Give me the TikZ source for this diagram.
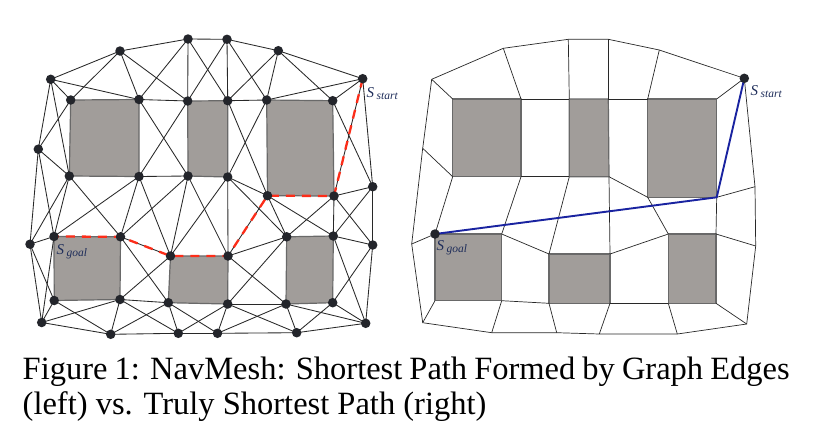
\documentclass[tikz,border=0pt]{standalone}
\usepackage{fontspec}
\setmainfont{Liberation Serif}
\definecolor{obfill}{RGB}{161,157,154}
\definecolor{obline}{RGB}{105,105,105}
\definecolor{dotcol}{RGB}{35,37,43}
\definecolor{edgecol}{RGB}{40,40,40}
\definecolor{redpath}{RGB}{252,45,25}
\definecolor{bluepath}{RGB}{25,35,160}
\definecolor{labcol}{RGB}{30,45,90}
\tikzset{
  edge/.style={draw=edgecol, line width=0.85pt},
  medge/.style={draw=edgecol, line width=0.7pt},
  obst/.style={fill=obfill, draw=obline, line width=1.2pt, line join=round},
  dot/.style={circle, fill=dotcol, inner sep=0pt, minimum size=9.5pt},
  rpath/.style={draw=redpath, line width=2.3pt, dash pattern=on 9pt off 7pt},
  bpath/.style={draw=bluepath, line width=1.9pt, line join=round},
  lab/.style={inner sep=0pt, text=labcol, anchor=base west},
  capt/.style={inner sep=0pt, anchor=base west, font=\fontsize{32.5}{35}\selectfont}
}
\newcommand{\slab}[1]{\fontsize{15}{15}\selectfont\textit{S}\,\raisebox{-2pt}{\fontsize{11.5}{11.5}\selectfont\textit{#1}}}
\begin{document}
\begin{tikzpicture}[x=1pt,y=-1pt]
\useasboundingbox (0,0) rectangle (819,429);
\fill[white] (0,0) rectangle (819,429);
% ---------------- left graph: vertices
\coordinate (A1) at (50.7,79.3);  \coordinate (A2) at (120,51);
\coordinate (A3) at (188,39);     \coordinate (A4) at (227,39.3);
\coordinate (A5) at (278.3,50.7); \coordinate (A6) at (362.7,78.7);
\coordinate (B1) at (70.7,100);   \coordinate (B2) at (139,99.5);
\coordinate (B3) at (187.7,101);  \coordinate (B4) at (227.7,100.7);
\coordinate (B5) at (266.7,100);  \coordinate (B6) at (332.7,100.7);
\coordinate (L1) at (38.3,149.2);
\coordinate (C1) at (69.3,176);   \coordinate (C2) at (139,176.5);
\coordinate (C3) at (188,176);    \coordinate (C4) at (227.7,177);
\coordinate (R1) at (372.7,186.7);
\coordinate (D1) at (267.5,195.7);\coordinate (D2) at (334,196);
\coordinate (E0) at (30,244.2);   \coordinate (E1) at (54,236.5);
\coordinate (E2) at (120.5,236.8);\coordinate (E3) at (170.5,256);
\coordinate (E4) at (228,256);    \coordinate (E5) at (286.7,236.8);
\coordinate (E6) at (333.3,236);  \coordinate (E7) at (372.7,245);
\coordinate (F1) at (54.2,300.5); \coordinate (F2) at (120,299.5);
\coordinate (F3) at (168.3,302.7);\coordinate (F4) at (227.7,304);
\coordinate (F5) at (286,304);    \coordinate (F6) at (332.7,302.7);
\coordinate (G1) at (41.7,322.5); \coordinate (G2) at (110.7,334.3);
\coordinate (G3) at (178.3,333.3);\coordinate (G4) at (217.5,333.3);
\coordinate (G5) at (296.7,332.7);\coordinate (G6) at (365.7,323.3);
% obstacles
\draw[obst] (B1) -- (B2) -- (C2) -- (C1) -- cycle;
\draw[obst] (B3) -- (B4) -- (C4) -- (C3) -- cycle;
\draw[obst] (B5) -- (B6) -- (D2) -- (D1) -- cycle;
\draw[obst] (E1) -- (E2) -- (F2) -- (F1) -- cycle;
\draw[obst] (E3) -- (E4) -- (F4) -- (F3) -- cycle;
\draw[obst] (E5) -- (E6) -- (F6) -- (F5) -- cycle;
% edges
\foreach \a/\b in {A1/A2,A2/A3,A3/A4,A4/A5,A5/A6,
  A1/B1,A1/B2,A1/L1,A1/C1,A2/B1,A2/B2,A2/B3,A3/B2,A3/B3,A3/B4,
  A4/B3,A4/B4,A4/B5,A5/B4,A5/B5,A5/B6,A6/B5,A6/B6,A6/R1,A6/D2,
  B2/B3,B4/B5,B1/L1,L1/C1,L1/E0,L1/E1,C1/E0,C1/E1,C1/E2,
  B2/C3,B3/C2,C2/C3,C2/E1,C2/E2,C2/E3,C3/E2,C3/E3,C3/E4,
  C4/E3,C4/E4,C4/D1,C4/E5,B4/D1,B5/C4,
  B6/R1,D2/R1,R1/E6,R1/E7,D2/E7,D1/E6,D2/E5,D1/E5,D2/E6,D1/E4,
  E4/E5,E4/F5,E5/F4,E6/E7,E6/G6,E7/F6,E7/G6,
  E0/E1,E0/F1,E0/G1,E1/G1,E2/E3,E2/F3,E3/F2,F2/F3,F4/F5,
  G1/F1,G1/F2,G1/G2,F1/G2,F2/G2,F2/G3,F3/G2,F3/G3,F3/G4,
  F4/G3,F4/G4,F4/G5,F5/G4,F5/G5,F5/G6,F6/G5,F6/G6,
  G2/G3,G3/G4,G4/G5,G5/G6}
  \draw[edge] (\a) -- (\b);
% red path
\draw[rpath] (A6) -- (D2) -- (D1) -- (E4) -- (E3) -- (E2) -- (E1);
% dots
\foreach \n in {A1,A2,A3,A4,A5,A6,B1,B2,B3,B4,B5,B6,L1,C1,C2,C3,C4,R1,D1,D2,
  E0,E1,E2,E3,E4,E5,E6,E7,F1,F2,F3,F4,F5,F6,G1,G2,G3,G4,G5,G6}
  \node[dot] at (\n) {};
\node[lab] (lstart) at (366.5,97.5) {\slab{start}};
\node[lab] (lgoal) at (56.5,254.5) {\slab{goal}};
% ---------------- right mesh: vertices
\coordinate (rA1) at (431.7,79.3);  \coordinate (rA2) at (503.3,48.3);
\coordinate (rA3) at (568.3,39.3);  \coordinate (rA4) at (608.3,39.3);
\coordinate (rA5) at (659.3,50);    \coordinate (rA6) at (744.3,78.3);
\coordinate (rB1) at (452.7,99);    \coordinate (rB2) at (521,99);
\coordinate (rB3) at (569.3,99);    \coordinate (rB4) at (608.3,99);
\coordinate (rB5) at (647.7,99);    \coordinate (rB6) at (716.7,99);
\coordinate (rL1) at (422.7,148.3);
\coordinate (rC1) at (452.7,176.7); \coordinate (rC2) at (521,176.7);
\coordinate (rC3) at (569.3,176.7); \coordinate (rC4) at (609,176.7);
\coordinate (rR1) at (755,186.7);
\coordinate (rD1) at (647.7,197.3); \coordinate (rD2) at (716.7,197.3);
\coordinate (rE0) at (411.7,244);   \coordinate (rE1) at (435,234);
\coordinate (rE2) at (501.7,234);   \coordinate (rE3) at (549,254);
\coordinate (rE4) at (610,254);     \coordinate (rE5) at (668.3,234);
\coordinate (rE6) at (716,234);     \coordinate (rE7) at (755.7,246);
\coordinate (rF1) at (435,300.7);   \coordinate (rF2) at (501.7,300.7);
\coordinate (rF3) at (549,303.3);   \coordinate (rF4) at (610,303.3);
\coordinate (rF5) at (668.3,303.3); \coordinate (rF6) at (716,303.3);
\coordinate (rG1) at (422.7,322.7); \coordinate (rG2) at (491.7,332.7);
\coordinate (rG3) at (556.7,332.7); \coordinate (rG4) at (599.3,334);
\coordinate (rG5) at (677.3,334);   \coordinate (rG6) at (746.7,324);
% obstacles
\draw[obst] (rB1) -- (rB2) -- (rC2) -- (rC1) -- cycle;
\draw[obst] (rB3) -- (rB4) -- (rC4) -- (rC3) -- cycle;
\draw[obst] (rB5) -- (rB6) -- (rD2) -- (rD1) -- cycle;
\draw[obst] (rE1) -- (rE2) -- (rF2) -- (rF1) -- cycle;
\draw[obst] (rE3) -- (rE4) -- (rF4) -- (rF3) -- cycle;
\draw[obst] (rE5) -- (rE6) -- (rF6) -- (rF5) -- cycle;
% mesh edges
\draw[medge] (rA1) -- (rA2) -- (rA3) -- (rA4) -- (rA5) -- (rA6) -- (rR1) -- (rE7)
  -- (rG6) -- (rG5) -- (rG4) -- (rG3) -- (rG2) -- (rG1) -- (rE0) -- (rL1) -- cycle;
\foreach \a/\b in {rA1/rB1,rA2/rB2,rA3/rB3,rA4/rB4,rA5/rB5,rA6/rB6,
  rB2/rB3,rB4/rB5,rC2/rC3,rL1/rC1,rC1/rE1,rC2/rE2,rC3/rE3,rC4/rE4,
  rC4/rD1,rD1/rE5,rE4/rE5,rD2/rR1,rD2/rE6,rE6/rE7,
  rF6/rG6,rF5/rG5,rF4/rG4,rF3/rG3,rF2/rG2,rF1/rG1,
  rE0/rE1,rE2/rE3,rF2/rF3,rF4/rF5}
  \draw[medge] (\a) -- (\b);
% blue path
\draw[bpath] (rE1) -- (rD2) -- (rA6);
\node[dot] at (rE1) {};
\node[dot] at (rA6) {};
\node[lab] (rstart) at (750.5,95.5) {\slab{start}};
\node[lab] (rgoal) at (436.5,250.5) {\slab{goal}};
% ---------------- caption
\node[capt] (cap1) at (22.5,379.5) {\makebox[767pt][s]{Figure 1: NavMesh: Shortest Path Formed by Graph Edges}};
\node[capt] (cap2) at (22.5,414) {(left) vs. Truly Shortest Path (right)};
\end{tikzpicture}
\end{document}
